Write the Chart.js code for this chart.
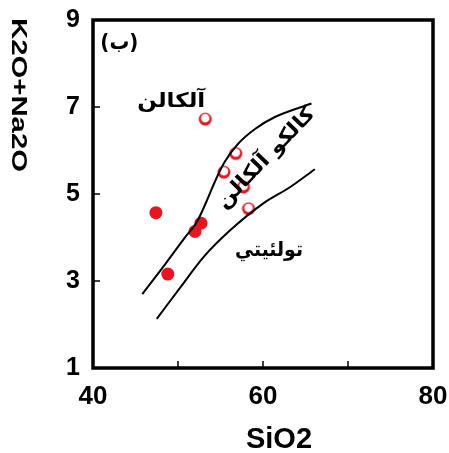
<!DOCTYPE html>
<html><head><meta charset="utf-8">
<script src="https://cdn.jsdelivr.net/npm/chart.js@4"></script>
<style>html,body{margin:0;padding:0;background:#fff;overflow:hidden;}</style>
</head><body>
<canvas id="c" width="449" height="453"></canvas>
<script>
// ---- data ----
const xTickLabels = [40, 60, 80];
const yTickLabels = [1, 3, 5, 7, 9];
const xInnerTicks = [50, 60, 70];
const yInnerTicks = [3, 5, 7];
const filledSiO2 = [47.4, 48.8, 52.0, 52.7];
const filledAlk  = [4.57, 3.16, 4.14, 4.33];
const openSiO2 = [53.2, 56.8, 55.4, 57.7, 58.3];
const openAlk  = [6.72, 5.93, 5.50, 5.16, 4.66];
const upperSiO2 = [45.8, 48.5, 50.85, 52.2, 53.4, 54.4, 55.5, 57.1, 59.1, 61.4, 65.7];
const upperAlk  = [2.70, 3.39, 4.01, 4.35, 4.85, 5.31, 5.74, 6.16, 6.50, 6.77, 7.08];
const lowerSiO2 = [47.5, 50.3, 53.0, 56.1, 60.0, 63.2, 66.1];
const lowerAlk  = [2.13, 2.86, 3.55, 4.16, 4.78, 5.16, 5.57];
const fieldNames = ['(ب)', 'آلكالن', 'كالكو آلكالن', 'تولئيتي'];
const xTitle = 'SiO2';
const yTitle = 'K2O+Na2O';

// ---- styling / placement (not data) ----
const RED = '#e8141e';
const labelPlacement = [
  {x: 43.1, y: 8.47, w: 38, size: 22, angle: 0},
  {x: 49.2, y: 7.11, w: 68, size: 20, angle: 0},
  {x: 60.4, y: 5.82, w: 132, size: 20, angle: -46},
  {x: 60.7, y: 3.70, w: 68, size: 20, angle: 0}
];

function toPts(xs, ys) { return xs.map((v, i) => ({x: v, y: ys[i]})); }

// custom marker for the open symbols
const openMarker = document.createElement('canvas');
openMarker.width = 16; openMarker.height = 16;
(function () {
  const g = openMarker.getContext('2d');
  g.fillStyle = RED;
  g.beginPath(); g.arc(8, 8, 6.5, 0, Math.PI * 2); g.fill();
  g.fillStyle = '#fff';
  g.beginPath(); g.arc(8, 7.0, 4.3, 0, Math.PI * 2); g.fill();
})();

const deco = {
  id: 'deco',
  afterDraw(chart) {
    const ctx = chart.ctx, a = chart.chartArea;
    const xs = chart.scales.x, ys = chart.scales.y;
    ctx.save();
    // frame
    ctx.strokeStyle = '#000';
    ctx.lineWidth = 3.5;
    ctx.strokeRect(a.left, a.top, a.right - a.left, a.bottom - a.top);
    // inward ticks
    ctx.lineWidth = 1.5;
    ctx.beginPath();
    xInnerTicks.forEach(v => { const p = xs.getPixelForValue(v); ctx.moveTo(p, a.bottom); ctx.lineTo(p, a.bottom - 7); });
    yInnerTicks.forEach(v => { const p = ys.getPixelForValue(v); ctx.moveTo(a.left, p); ctx.lineTo(a.left + 7, p); });
    ctx.stroke();
    // axis titles
    ctx.fillStyle = '#000';
    ctx.font = 'bold 29px "Liberation Sans", Arial, sans-serif';
    ctx.textAlign = 'center';
    ctx.textBaseline = 'alphabetic';
    ctx.fillText(xTitle, 279, 448);
    ctx.save();
    ctx.translate(12, 95);
    ctx.rotate(Math.PI / 2);
    ctx.font = 'bold 22px "Liberation Sans", Arial, sans-serif';
    const tw = ctx.measureText(yTitle).width;
    ctx.scale(154 / tw, 1);
    ctx.fillText(yTitle, 0, 0);
    ctx.restore();
    // field labels
    fieldNames.forEach((t, i) => {
      const L = labelPlacement[i];
      ctx.save();
      ctx.translate(xs.getPixelForValue(L.x), ys.getPixelForValue(L.y));
      ctx.rotate(L.angle * Math.PI / 180);
      ctx.font = 'bold ' + L.size + 'px "DejaVu Sans", sans-serif';
      ctx.direction = 'rtl';
      ctx.textAlign = 'center';
      ctx.textBaseline = 'middle';
      const w = ctx.measureText(t).width;
      ctx.scale(L.w / w, 1);
      ctx.fillText(t, 0, 0);
      ctx.restore();
    });
    ctx.restore();
  }
};

new Chart(document.getElementById('c'), {
  type: 'scatter',
  data: {
    datasets: [
      {data: toPts(upperSiO2, upperAlk), showLine: true, borderColor: '#000', borderWidth: 2, pointRadius: 0, cubicInterpolationMode: 'monotone', fill: false, order: 0},
      {data: toPts(lowerSiO2, lowerAlk), showLine: true, borderColor: '#000', borderWidth: 2, pointRadius: 0, cubicInterpolationMode: 'monotone', fill: false, order: 0},
      {data: toPts(filledSiO2, filledAlk), pointRadius: 6.5, pointBackgroundColor: RED, pointBorderColor: RED, pointBorderWidth: 0, order: 1},
      {data: toPts(openSiO2, openAlk), pointStyle: openMarker, pointRadius: 8, order: 1}
    ]
  },
  options: {
    responsive: false,
    animation: false,
    devicePixelRatio: 1,
    layout: {padding: {top: 20, right: 16, left: 0, bottom: 0}},
    plugins: {legend: {display: false}, tooltip: {enabled: false}},
    scales: {
      x: {
        type: 'linear', min: 40, max: 80,
        afterBuildTicks: s => { s.ticks = xTickLabels.map(v => ({value: v})); },
        afterFit: s => { s.height = 85; s.paddingLeft = 0; s.paddingRight = 0; },
        grid: {display: false, drawTicks: false},
        border: {display: false},
        ticks: {color: '#000', padding: 13, maxRotation: 0, autoSkip: false,
          font: {family: '"Liberation Sans", Arial, sans-serif', size: 26, weight: 'bold'}}
      },
      y: {
        type: 'linear', min: 1, max: 9,
        afterBuildTicks: s => { s.ticks = yTickLabels.map(v => ({value: v})); },
        afterFit: s => { s.width = 93; s.paddingTop = 0; s.paddingBottom = 0; },
        grid: {display: false, drawTicks: false},
        border: {display: false},
        ticks: {color: '#000', padding: 13, autoSkip: false,
          font: {family: '"Liberation Sans", Arial, sans-serif', size: 25, weight: 'bold'}}
      }
    }
  },
  plugins: [deco]
});
</script>
</body></html>
